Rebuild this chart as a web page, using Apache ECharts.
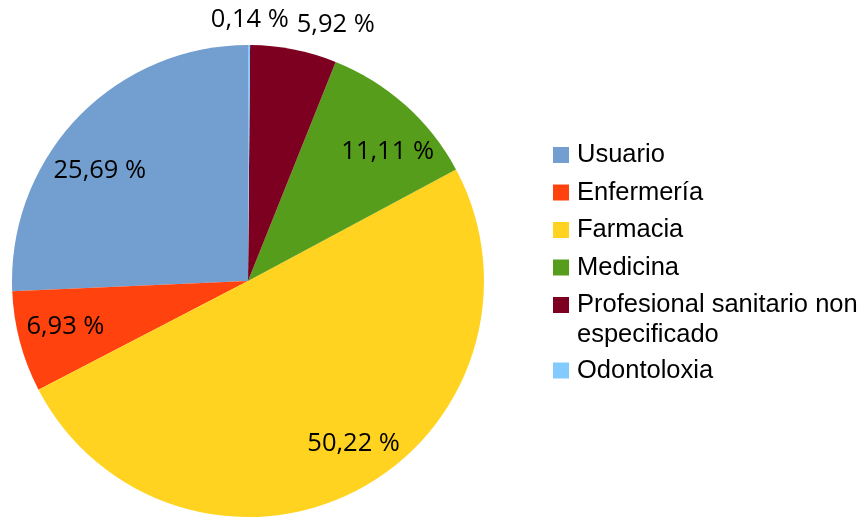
<!DOCTYPE html>
<html>
<head>
<meta charset="utf-8">
<script src="https://cdn.jsdelivr.net/npm/echarts@6/dist/echarts.min.js"></script>
<style>
  html, body { margin: 0; padding: 0; background: #fff; }
  #grafico { width: 866px; height: 517px; }
</style>
</head>
<body>
<div id="grafico"></div>
<script>
// categorias e porcentaxes (orde da lenda)
var categorias = ['Usuario', 'Enfermería', 'Farmacia', 'Medicina', 'Profesional sanitario non especificado', 'Odontoloxia'];
var porcentaxes = [25.69, 6.93, 50.22, 11.11, 5.92, 0.14];
var cores = ['#729fcf', '#ff420e', '#ffd320', '#579d1c', '#7e0021', '#83caff'];

// pequenos desprazamentos das etiquetas (como as coloca LibreOffice)
var axusteEtiquetas = [[-11, 21], [1, -3], [17, -5], [13, 12], [51, -70], [1, -71]];

var datos = categorias.map(function (nome, i) {
    return { name: nome, value: porcentaxes[i], itemStyle: { color: cores[i] } };
});

var chartDom = document.getElementById('grafico');
var myChart = echarts.init(chartDom, null, { renderer: 'canvas' });

var longo = 'Profesional sanitario non especificado';

var option = {
    animation: false,
    legend: {
        orient: 'vertical',
        left: 553,
        top: 140,
        padding: 0,
        itemWidth: 16,
        itemHeight: 16,
        itemGap: 7.5,
        icon: 'rect',
        selectedMode: false,
        formatter: function (nome) {
            return nome === longo ? 'Profesional sanitario non\nespecificado' : nome;
        },
        textStyle: {
            fontFamily: 'Liberation Sans',
            fontSize: 25.5,
            color: '#000',
            lineHeight: 30,
            padding: [0, 0, 0, 3],
            rich: { p: {} }
        },
        data: categorias.map(function (nome) {
            if (nome === longo) {
                // a primeira liña á altura do cadro de cor
                return { name: nome, textStyle: { padding: [0, 0, -30, 3] } };
            }
            return { name: nome };
        })
    },
    series: [
        {
            type: 'pie',
            center: [248, 281],
            radius: 236,
            startAngle: 90,
            clockwise: false,
            label: { show: false },
            labelLine: { show: false },
            emphasis: { disabled: true },
            data: datos
        },
        {
            // serie transparente só para as etiquetas
            type: 'pie',
            center: [248, 281],
            radius: 374,
            startAngle: 90,
            clockwise: false,
            silent: true,
            legendHoverLink: false,
            itemStyle: { color: 'transparent' },
            emphasis: { disabled: true },
            label: {
                show: true,
                position: 'inside',
                fontFamily: 'Open Sans',
                fontSize: 25.5,
                color: '#000',
                formatter: function (p) {
                    return p.value.toFixed(2).replace('.', ',') + ' %';
                }
            },
            labelLine: { show: false },
            labelLayout: function (p) {
                var a = axusteEtiquetas[p.dataIndex];
                return { dx: a[0], dy: a[1] };
            },
            data: categorias.map(function (nome, i) {
                return { name: nome, value: porcentaxes[i] };
            })
        }
    ]
};

myChart.setOption(option);
</script>
</body>
</html>
